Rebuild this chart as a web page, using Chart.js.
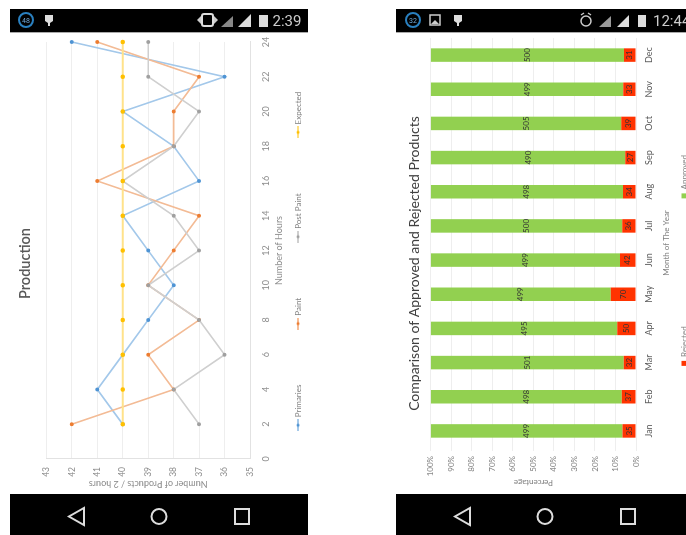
<!DOCTYPE html>
<html>
<head>
<meta charset="utf-8">
<title>Production reports</title>
<script src="https://cdn.jsdelivr.net/npm/chart.js@4"></script>
<style>
    html, body { margin: 0; padding: 0; background: #fff; width: 686px; height: 535px; overflow: hidden; }
    canvas { position: absolute; top: 494px; transform-origin: 0 0; transform: rotate(-90deg); }
    #production { left: 10px; }
    #quality { left: 396px; }
    #chrome { position: absolute; left: 0; top: 0; }
</style>
</head>
<body>
<canvas id="production" width="461" height="298"></canvas>
<canvas id="quality" width="461" height="298"></canvas>

<svg id="chrome" width="686" height="535" font-family="Roboto, sans-serif">
    <!-- left phone -->
    <rect x="10" y="9" width="298" height="23" fill="#000"/>
    <rect x="10" y="32" width="298" height="1" fill="#aaa"/>
    <rect x="10" y="494" width="298" height="41" fill="#000"/>
    <circle cx="26" cy="20" r="7" fill="none" stroke="#2a80c0" stroke-width="2"/>
    <text x="26" y="23" font-size="7" fill="#6fa8d8" text-anchor="middle">48</text>
    <path d="M45 15h8v6l-3 2v3h-2v-3l-3-2z" fill="#ddd"/>
    <path d="M197 20l4-4v8zM218 20l-4-4v8z" fill="#ccc"/>
    <rect x="202" y="14" width="11" height="12" rx="2" fill="none" stroke="#ddd" stroke-width="2"/>
    <path d="M221 27L233 16v11z" fill="#888"/>
    <path d="M238 27L251 14v13z" fill="#ddd"/>
    <rect x="259" y="15" width="9" height="12" fill="#ddd"/>
    <text x="287" y="26" font-size="15" fill="#ccc" text-anchor="middle">2:39</text>
    <path d="M84 508v17L69 516.5z" fill="none" stroke="#ddd" stroke-width="2"/>
    <circle cx="159" cy="516.5" r="7.5" fill="none" stroke="#ddd" stroke-width="2"/>
    <rect x="235" y="509" width="14" height="15" fill="none" stroke="#ddd" stroke-width="2"/>

    <!-- right phone -->
    <rect x="396" y="9" width="290" height="23" fill="#000"/>
    <rect x="396" y="32" width="290" height="1" fill="#aaa"/>
    <rect x="396" y="494" width="290" height="41" fill="#000"/>
    <circle cx="413" cy="20" r="7" fill="none" stroke="#2a80c0" stroke-width="2"/>
    <text x="413" y="23" font-size="7" fill="#6fa8d8" text-anchor="middle">32</text>
    <rect x="430" y="15" width="10" height="10" fill="none" stroke="#ccc" stroke-width="1.5"/>
    <path d="M431 24l4-4 4 4z" fill="#ccc"/>
    <path d="M454 15h8v6l-3 2v3h-2v-3l-3-2z" fill="#ddd"/>
    <circle cx="586" cy="21" r="5" fill="none" stroke="#ccc" stroke-width="1.5"/>
    <path d="M581 15l3-2M591 15l-3-2" stroke="#ccc" stroke-width="1.5"/>
    <path d="M599 27L611 16v11z" fill="#999"/>
    <path d="M617 27L629 15v12z" fill="#ddd"/>
    <rect x="638" y="15" width="8" height="12" fill="#ddd"/>
    <text x="653" y="26" font-size="15" fill="#ccc">12:44</text>
    <path d="M470 508v17L455 516.5z" fill="none" stroke="#ddd" stroke-width="2"/>
    <circle cx="545" cy="516.5" r="7.5" fill="none" stroke="#ddd" stroke-width="2"/>
    <rect x="621" y="509" width="14" height="15" fill="none" stroke="#ddd" stroke-width="2"/>
</svg>

<script>
const FONT = 'Lato, sans-serif';

// production line chart
const hours = [2, 4, 6, 8, 10, 12, 14, 16, 18, 20, 22, 24];
const primaries = [40, 41, 40, 39, 38, 39, 40, 37, 38, 40, 36, 42];
const paint = [42, 38, 39, 37, 39, 38, 37, 41, 38, 38, 37, 41];
const postPaint = [37, 38, 36, 37, 39, 37, 38, 40, 38, 37, 39, 39];
const expected = [40, 40, 40, 40, 40, 40, 40, 40, 40, 40, 40, 40];

// approved / rejected counts per month
const months = ['Jan', 'Feb', 'Mar', 'Apr', 'May', 'Jun', 'Jul', 'Aug', 'Sep', 'Oct', 'Nov', 'Dec'];
const approved = [499, 498, 501, 495, 499, 499, 500, 498, 490, 505, 499, 500];
const rejected = [35, 37, 32, 50, 70, 42, 36, 34, 27, 39, 33, 31];

function toPoints(values) {
    return values.map((v, i) => ({x: hours[i], y: v}));
}

// little line + dot swatch for the legend
function lineSwatch(color) {
    const c = document.createElement('canvas');
    c.width = 12;
    c.height = 6;
    const ctx = c.getContext('2d');
    ctx.strokeStyle = color;
    ctx.beginPath();
    ctx.moveTo(0, 3);
    ctx.lineTo(12, 3);
    ctx.stroke();
    ctx.fillStyle = color;
    ctx.beginPath();
    ctx.arc(6, 3, 1.5, 0, Math.PI * 2);
    ctx.fill();
    return c;
}

// lower order paints on top, so Expected ends up above the other lines
function lineSeries(label, values, line, dot, width, order) {
    return {
        label: label,
        data: toPoints(values),
        borderColor: line,
        borderWidth: width,
        pointBackgroundColor: dot,
        pointBorderColor: dot,
        pointRadius: 1.2,
        pointStyle: 'circle',
        legendSwatch: lineSwatch(dot),
        clip: false,
        order: order,
        tension: 0
    };
}

// wide legend gaps live in labels.padding, which makes the legend wrap and also
// pushes the row down, so refit it on one row and lift it back after layout.
// The title gets centred over the whole canvas, ignoring the layout padding.
const wideBoxes = {
    id: 'wideBoxes',
    afterLayout(chart) {
        const legend = chart.legend;
        const top = legend.top;
        legend.maxWidth = 2000;
        legend.fit();
        legend.left = -97;
        legend.right = chart.width + 103;
        legend.top = top - chart.options.plugins.legend.labels.padding + 6;
        chart.titleBlock.left = 0;
        chart.titleBlock.right = chart.width;
    }
};

// raw counts printed in the middle of each stacked segment
const segmentCounts = {
    id: 'segmentCounts',
    afterDatasetsDraw(chart) {
        const ctx = chart.ctx;
        ctx.save();
        ctx.font = '8px ' + FONT;
        ctx.fillStyle = '#333';
        ctx.textAlign = 'center';
        ctx.textBaseline = 'middle';
        chart.data.datasets.forEach((ds, d) => {
            chart.getDatasetMeta(d).data.forEach((bar, i) => {
                ctx.fillText(ds.counts[i], bar.x, (bar.y + bar.base) / 2);
            });
        });
        ctx.restore();
    }
};

new Chart(document.querySelector('#production'), {
    type: 'line',
    data: {
        datasets: [
            lineSeries('Primaries', primaries, '#a3c8ea', '#4f94d4', 1.6, 4),
            lineSeries('Paint', paint, '#f3bb95', '#ed7d31', 1.6, 3),
            lineSeries('Post Paint', postPaint, '#cfcfcf', '#a0a0a0', 1.6, 2),
            lineSeries('Expected', expected, '#ffe28a', '#ffc000', 2.2, 1)
        ]
    },
    options: {
        responsive: false,
        animation: false,
        layout: {padding: {right: 9}},
        plugins: {
            title: {
                display: true,
                text: 'Production',
                color: '#595959',
                font: {family: FONT, size: 14.5, weight: '600'},
                padding: {top: 7, bottom: 12}
            },
            legend: {
                position: 'bottom',
                maxHeight: 20,
                labels: {
                    usePointStyle: true,
                    padding: 57,
                    color: '#7f7f7f',
                    font: {family: FONT, size: 8},
                    generateLabels: chart => chart.data.datasets.map((ds, i) => ({
                        text: ds.label,
                        datasetIndex: i,
                        fontColor: '#7f7f7f',
                        pointStyle: ds.legendSwatch
                    }))
                }
            }
        },
        scales: {
            x: {
                type: 'linear',
                min: 0,
                max: 24,
                afterFit: scale => { scale.height = 38; },
                grid: {display: false},
                border: {color: '#e2e2e2'},
                ticks: {stepSize: 2, color: '#8c8c8c', font: {family: FONT, size: 9}, maxRotation: 0},
                title: {display: true, text: 'Number of Hours', color: '#8c8c8c', padding: {top: 1, bottom: 4}, font: {family: FONT, size: 9}}
            },
            y: {
                min: 35,
                max: 43,
                afterFit: scale => { scale.width = 35; },
                grid: {color: '#eeeeee', drawTicks: false},
                border: {color: '#e2e2e2'},
                ticks: {stepSize: 1, color: '#8c8c8c', padding: 8, font: {family: FONT, size: 8.5}},
                title: {display: true, text: 'Number of Products / 2 hours', color: '#8c8c8c', padding: {top: 5, bottom: 0}, font: {family: FONT, size: 9}}
            }
        }
    },
    plugins: [wideBoxes]
});

new Chart(document.querySelector('#quality'), {
    type: 'bar',
    data: {
        labels: months,
        datasets: [
            {
                label: 'Rejected',
                counts: rejected,
                data: rejected.map((r, i) => r / (r + approved[i]) * 100),
                backgroundColor: '#ff3300',
                stack: 'month',
                barPercentage: 0.395,
                categoryPercentage: 1
            },
            {
                label: 'Approved',
                counts: approved,
                data: approved.map((a, i) => a / (a + rejected[i]) * 100),
                backgroundColor: '#92d050',
                stack: 'month',
                barPercentage: 0.395,
                categoryPercentage: 1
            }
        ]
    },
    options: {
        responsive: false,
        animation: false,
        layout: {padding: {right: 5}},
        plugins: {
            title: {
                display: true,
                text: 'Comparison of Approved and Rejected Products',
                color: '#404040',
                font: {family: FONT, size: 14, weight: '400'},
                padding: {top: 10, bottom: 8}
            },
            legend: {
                position: 'bottom',
                maxHeight: 20,
                labels: {
                    boxWidth: 5,
                    boxHeight: 5,
                    padding: 128,
                    color: '#7f7f7f',
                    font: {family: FONT, size: 8}
                }
            }
        },
        scales: {
            x: {
                stacked: true,
                afterFit: scale => { scale.height = 38; },
                grid: {display: false},
                border: {display: false},
                ticks: {color: '#595959', padding: 0, font: {family: FONT, size: 9}, maxRotation: 0, autoSkip: false},
                title: {display: true, text: 'Month of The Year', color: '#7f7f7f', padding: {top: 1, bottom: 3}, font: {family: FONT, size: 8}}
            },
            y: {
                stacked: true,
                min: 0,
                max: 100,
                afterFit: scale => { scale.width = 46; },
                grid: {color: '#eeeeee', tickLength: 3},
                border: {display: false},
                ticks: {stepSize: 10, color: '#7f7f7f', padding: 5, font: {family: FONT, size: 8}, callback: v => v + '%'},
                title: {display: true, text: 'Percentage', color: '#7f7f7f', padding: {top: 7, bottom: 0}, font: {family: FONT, size: 8}}
            }
        }
    },
    plugins: [wideBoxes, segmentCounts]
});
</script>
</body>
</html>
